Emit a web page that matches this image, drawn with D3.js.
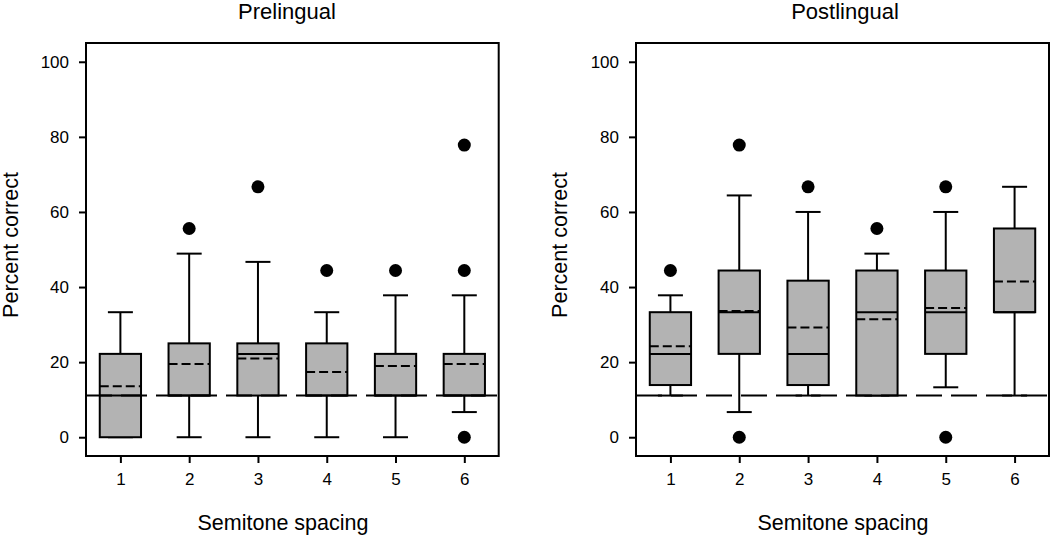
<!DOCTYPE html>
<html><head><meta charset="utf-8">
<script src="https://cdn.jsdelivr.net/npm/d3@7"></script>
<style>body{margin:0;background:#fff}</style></head>
<body><svg id="c" width="1050" height="536"></svg>
<script>
const categories = [1, 2, 3, 4, 5, 6];
const yTicks = [0, 20, 40, 60, 80, 100];
const chanceLevel = 11.1;
const panelTitles = ["Prelingual", "Postlingual"];
const xAxisTitle = "Semitone spacing";
const yAxisTitle = "Percent correct";

// Prelingual
const preLowWhisker  = [0, 0, 0, 0, 0, 6.7];
const preQ1          = [0, 11.1, 11.1, 11.1, 11.1, 11.1];
const preMedian      = [11.1, 11.1, 22.2, 11.1, 11.1, 11.1];
const preQ3          = [22.2, 25, 25, 25, 22.2, 22.2];
const preHighWhisker = [33.3, 48.9, 46.7, 33.3, 37.8, 37.8];
const preMean        = [13.6, 19.5, 21.0, 17.4, 19.0, 19.5];
const preOutliers    = [[], [55.6], [66.7], [44.4], [44.4], [0, 44.4, 77.8]];

// Postlingual
const postLowWhisker  = [11.1, 6.7, 11.1, 11.1, 13.3, 11.1];
const postQ1          = [13.9, 22.2, 13.9, 11.1, 22.2, 33.3];
const postMedian      = [22.2, 33.3, 22.2, 33.3, 33.3, 33.3];
const postQ3          = [33.3, 44.4, 41.7, 44.4, 44.4, 55.6];
const postHighWhisker = [37.8, 64.4, 60.0, 48.9, 60.0, 66.7];
const postMean        = [24.2, 33.6, 29.2, 31.4, 34.4, 41.5];
const postOutliers    = [[44.4], [0, 77.8], [66.7], [55.6], [0, 66.7], []];

function build(lw, q1, med, q3, hw, mean, out) {
  return categories.map((c, i) => ({c, lw: lw[i], q1: q1[i], med: med[i], q3: q3[i], hw: hw[i], mean: mean[i], out: out[i]}));
}
const panels = [
  {title: panelTitles[0], data: build(preLowWhisker, preQ1, preMedian, preQ3, preHighWhisker, preMean, preOutliers),
   x0: 86, x1: 498.7, titleX: 287, xLabelX: 283, yLabelX: 18},
  {title: panelTitles[1], data: build(postLowWhisker, postQ1, postMedian, postQ3, postHighWhisker, postMean, postOutliers),
   x0: 636, x1: 1049, titleX: 845, xLabelX: 843, yLabelX: 567}
];

const svg = d3.select("#c");
const FONT = "'Liberation Sans', Arial, sans-serif";
const plotTop = 43, plotBottom = 456;
const y = d3.scaleLinear().domain([-5, 105]).range([plotBottom, plotTop]);

panels.forEach(p => {
  const x = d3.scaleLinear().domain([0.5, 6.5]).range([p.x0, p.x1]);
  const step = x(2) - x(1);
  const bw = step * 0.6, cw = 25;
  const g = svg.append("g");

  const b = g.selectAll("g.box").data(p.data).enter().append("g");
  b.append("line").attr("x1", d => x(d.c)).attr("x2", d => x(d.c))
    .attr("y1", d => y(d.q3)).attr("y2", d => y(d.hw)).attr("stroke", "#000").attr("stroke-width", 2);
  b.append("line").attr("x1", d => x(d.c)).attr("x2", d => x(d.c))
    .attr("y1", d => y(d.q1)).attr("y2", d => y(d.lw)).attr("stroke", "#000").attr("stroke-width", 2);
  b.append("line").attr("x1", d => x(d.c) - cw / 2).attr("x2", d => x(d.c) + cw / 2)
    .attr("y1", d => y(d.hw)).attr("y2", d => y(d.hw)).attr("stroke", "#000").attr("stroke-width", 2);
  b.append("line").attr("x1", d => x(d.c) - cw / 2).attr("x2", d => x(d.c) + cw / 2)
    .attr("y1", d => y(d.lw)).attr("y2", d => y(d.lw)).attr("stroke", "#000").attr("stroke-width", 2);
  b.append("rect").attr("x", d => x(d.c) - bw / 2).attr("width", bw)
    .attr("y", d => y(d.q3)).attr("height", d => y(d.q1) - y(d.q3))
    .attr("fill", "#b3b3b3").attr("stroke", "#000").attr("stroke-width", 2);
  b.append("line").attr("x1", d => x(d.c) - bw / 2).attr("x2", d => x(d.c) + bw / 2)
    .attr("y1", d => y(d.med)).attr("y2", d => y(d.med)).attr("stroke", "#000").attr("stroke-width", 2);
  b.append("line").attr("x1", d => x(d.c) - bw / 2).attr("x2", d => x(d.c) + bw / 2)
    .attr("y1", d => y(d.mean)).attr("y2", d => y(d.mean)).attr("stroke", "#000").attr("stroke-width", 2)
    .attr("stroke-dasharray", "9,4");
  b.selectAll("circle").data(d => d.out.map(v => ({c: d.c, v}))).enter().append("circle")
    .attr("cx", d => x(d.c)).attr("cy", d => y(d.v)).attr("r", 6.5).attr("fill", "#000");

  g.append("line").attr("x1", p.x0).attr("x2", p.x1).attr("y1", y(chanceLevel)).attr("y2", y(chanceLevel))
    .attr("stroke", "#000").attr("stroke-width", 2).attr("stroke-dasharray", "26,9");

  g.append("rect").attr("x", p.x0).attr("y", plotTop).attr("width", p.x1 - p.x0).attr("height", plotBottom - plotTop)
    .attr("fill", "none").attr("stroke", "#000").attr("stroke-width", 2);

  const yAxis = d3.axisLeft(y).tickValues(yTicks).tickSize(7).tickPadding(10).tickSizeOuter(0);
  const ya = g.append("g").attr("transform", `translate(${p.x0},0)`).call(yAxis);
  ya.select(".domain").remove();
  ya.selectAll("line").attr("stroke-width", 2);
  ya.selectAll("text").attr("font-family", FONT).attr("font-size", 17).attr("fill", "#000");

  const xAxis = d3.axisBottom(x).tickValues(categories).tickSize(7).tickPadding(10).tickSizeOuter(0).tickFormat(d3.format("d"));
  const xa = g.append("g").attr("transform", `translate(0,${plotBottom})`).call(xAxis);
  xa.select(".domain").remove();
  xa.selectAll("line").attr("stroke-width", 2);
  xa.selectAll("text").attr("font-family", FONT).attr("font-size", 17).attr("fill", "#000");

  g.append("text").attr("x", p.titleX).attr("y", 19).attr("text-anchor", "middle")
    .attr("font-family", FONT).attr("font-size", 22).text(p.title);
  g.append("text").attr("x", p.xLabelX).attr("y", 530).attr("text-anchor", "middle")
    .attr("font-family", FONT).attr("font-size", 21.5).text(xAxisTitle);
  g.append("text").attr("transform", `translate(${p.yLabelX},245) rotate(-90)`).attr("text-anchor", "middle")
    .attr("font-family", FONT).attr("font-size", 21.5).text(yAxisTitle);
});
</script></body></html>
